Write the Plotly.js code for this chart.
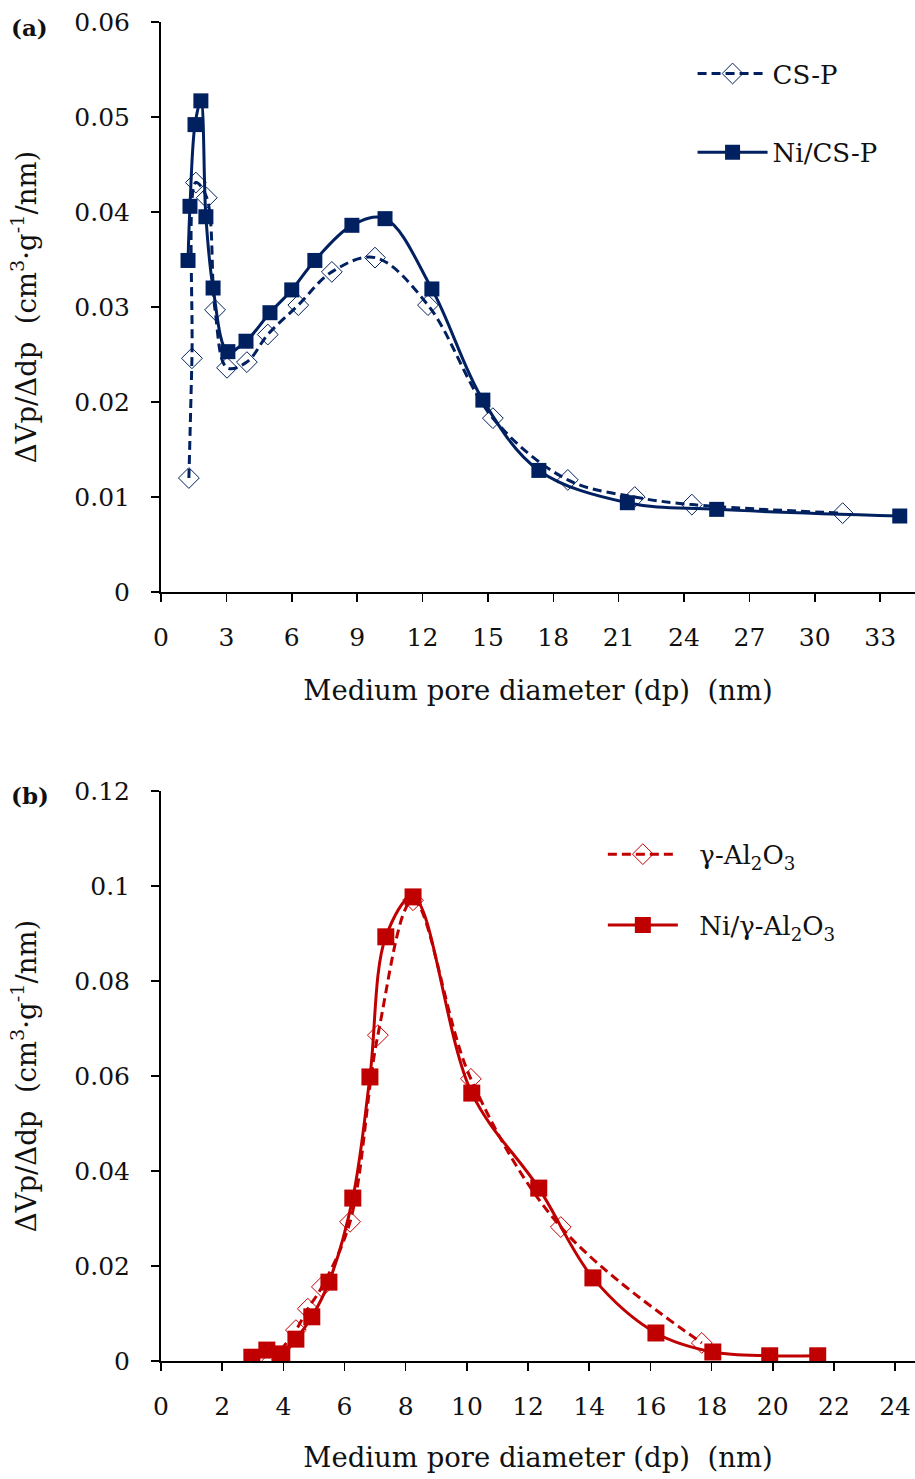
<!DOCTYPE html>
<html>
<head>
<meta charset="utf-8">
<script src="https://cdn.plot.ly/plotly-3.0.1.min.js"></script>
<style>html,body{margin:0;padding:0;background:#fff;}#chart{width:915px;height:1479px;}</style>
</head>
<body>
<div id="chart"></div>
<script>
// Panel (a)
const csp_x = [1.28, 1.42, 1.60, 2.10, 2.48, 3.03, 3.94, 4.90, 6.30, 7.84, 9.82, 12.25, 15.23, 18.67, 21.74, 24.36, 31.28];
const csp_y = [0.0120, 0.0246, 0.0431, 0.0415, 0.0297, 0.0236, 0.0242, 0.0271, 0.0302, 0.0337, 0.0352, 0.0302, 0.0183, 0.0118, 0.0100, 0.0092, 0.0083];
const nicsp_x = [1.24, 1.33, 1.56, 1.83, 2.06, 2.39, 3.07, 3.90, 5.00, 6.00, 7.06, 8.76, 10.28, 12.43, 14.77, 17.34, 21.40, 25.50, 33.90];
const nicsp_y = [0.0349, 0.0406, 0.0492, 0.0517, 0.0395, 0.0320, 0.0253, 0.0264, 0.0294, 0.0318, 0.0349, 0.0386, 0.0393, 0.0319, 0.0202, 0.0128, 0.0094, 0.0087, 0.0080];
// Panel (b)
const al_x = [3.63, 4.41, 4.80, 5.26, 6.18, 7.09, 8.24, 10.13, 13.07, 17.68];
const al_y = [0.0000, 0.0065, 0.0110, 0.0156, 0.0293, 0.0686, 0.0970, 0.0594, 0.0282, 0.0038];
const nial_x = [2.97, 3.46, 3.95, 4.41, 4.93, 5.49, 6.27, 6.83, 7.35, 8.24, 10.16, 12.35, 14.12, 16.18, 18.04, 19.90, 21.47];
const nial_y = [0.0008, 0.0023, 0.0015, 0.0046, 0.0093, 0.0166, 0.0343, 0.0598, 0.0893, 0.0977, 0.0564, 0.0364, 0.0175, 0.0059, 0.0019, 0.0011, 0.0011];

const xTicksA = [0, 3, 6, 9, 12, 15, 18, 21, 24, 27, 30, 33];
const yTicksA = [0, 0.01, 0.02, 0.03, 0.04, 0.05, 0.06];
const yTickTextA = ['0', '0.01', '0.02', '0.03', '0.04', '0.05', '0.06'];
const xTicksB = [0, 2, 4, 6, 8, 10, 12, 14, 16, 18, 20, 22, 24];
const yTicksB = [0, 0.02, 0.04, 0.06, 0.08, 0.1, 0.12];
const yTickTextB = ['0', '0.02', '0.04', '0.06', '0.08', '0.1', '0.12'];

const blue = '#002060';
const red = '#C00000';
const FONT = 'DejaVu Serif, Liberation Serif, serif';
const NB = '\u00a0\u00a0';

const traces = [
  {x: csp_x, y: csp_y, name: 'CS-P', type: 'scatter', mode: 'lines+markers', xaxis: 'x', yaxis: 'y',
   line: {color: blue, width: 3, dash: '9px,5px', shape: 'spline'},
   marker: {symbol: 'diamond-open', size: 16, color: blue, line: {width: 1, color: blue}},
   legend: 'legend', legendgroup: 'a1'},
  {x: nicsp_x, y: nicsp_y, name: 'Ni/CS-P', type: 'scatter', mode: 'lines+markers', xaxis: 'x', yaxis: 'y',
   line: {color: blue, width: 3, shape: 'spline'},
   marker: {symbol: 'square', size: 15, color: blue},
   legend: 'legend', legendgroup: 'a2'},
  {x: al_x, y: al_y, name: NB + 'γ-Al<sub>2</sub>O<sub>3</sub>', type: 'scatter', mode: 'lines+markers', xaxis: 'x2', yaxis: 'y2',
   line: {color: red, width: 3, dash: '9px,5px', shape: 'spline'},
   marker: {symbol: 'diamond-open', size: 16, color: red, line: {width: 1, color: red}},
   legend: 'legend2', legendgroup: 'b1'},
  {x: nial_x, y: nial_y, name: NB + 'Ni/γ-Al<sub>2</sub>O<sub>3</sub>', type: 'scatter', mode: 'lines+markers', xaxis: 'x2', yaxis: 'y2',
   line: {color: red, width: 3, shape: 'spline'},
   marker: {symbol: 'square', size: 17, color: red},
   legend: 'legend2', legendgroup: 'b2'}
];

const axisCommon = {
  showgrid: false, zeroline: false, showline: true, linecolor: '#000', linewidth: 2,
  ticks: 'outside', ticklen: 8, tickwidth: 1.5, tickcolor: '#000',
  tickfont: {family: FONT, size: 25, color: '#111'}, fixedrange: true
};
const ytitle = 'ΔVp/Δdp  (cm<sup>3</sup>·g<sup>-1</sup>/nm)';
const xtitle = 'Medium pore diameter (dp)  (nm)\u00a0\u00a0\u00a0\u00a0';
const titleFont = {family: FONT, size: 27.5, color: '#111'};

const layout = {
  width: 915, height: 1479,
  margin: {l: 161, r: 0, t: 22, b: 118},
  paper_bgcolor: '#fff', plot_bgcolor: '#fff',
  font: {family: FONT, color: '#111'},
  xaxis: Object.assign({}, axisCommon, {domain: [0, 1], range: [0, 34.6], tickvals: xTicksA, anchor: 'y', ticklabelstandoff: 14,
    title: {text: xtitle, font: titleFont, standoff: 30}}),
  yaxis: Object.assign({}, axisCommon, {domain: [0.5743, 1], range: [0, 0.06], tickvals: yTicksA, ticktext: yTickTextA, anchor: 'x', ticklabelstandoff: 16,
    title: {text: ytitle, font: titleFont, standoff: 30}}),
  xaxis2: Object.assign({}, axisCommon, {domain: [0, 1], range: [0, 24.65], tickvals: xTicksB, anchor: 'y2', ticklabelstandoff: 14,
    title: {text: xtitle, font: titleFont, standoff: 28}}),
  yaxis2: Object.assign({}, axisCommon, {domain: [0, 0.4257], range: [0, 0.12], tickvals: yTicksB, ticktext: yTickTextB, anchor: 'x2', ticklabelstandoff: 16,
    title: {text: ytitle, font: titleFont, standoff: 30}}),
  legend: {x: 0.705, y: 0.979, xanchor: 'left', yanchor: 'top', bgcolor: 'rgba(0,0,0,0)',
    font: {family: FONT, size: 26, color: '#111'}, itemwidth: 70, tracegroupgap: 42, traceorder: 'grouped'},
  legend2: {x: 0.586, y: 0.396, xanchor: 'left', yanchor: 'top', bgcolor: 'rgba(0,0,0,0)',
    font: {family: FONT, size: 26, color: '#111'}, itemwidth: 70, tracegroupgap: 34, traceorder: 'grouped'},
  showlegend: true,
  annotations: [
    {text: '<b>(a)</b>', xref: 'paper', yref: 'paper', x: -0.174, y: 0.996, xanchor: 'center', yanchor: 'middle', showarrow: false,
     font: {family: FONT, size: 23, color: '#111'}},
    {text: '<b>(b)</b>', xref: 'paper', yref: 'paper', x: -0.174, y: 0.4227, xanchor: 'center', yanchor: 'middle', showarrow: false,
     font: {family: FONT, size: 23, color: '#111'}}
  ]
};

Plotly.newPlot('chart', traces, layout, {displayModeBar: false, staticPlot: true});
</script>
</body>
</html>
